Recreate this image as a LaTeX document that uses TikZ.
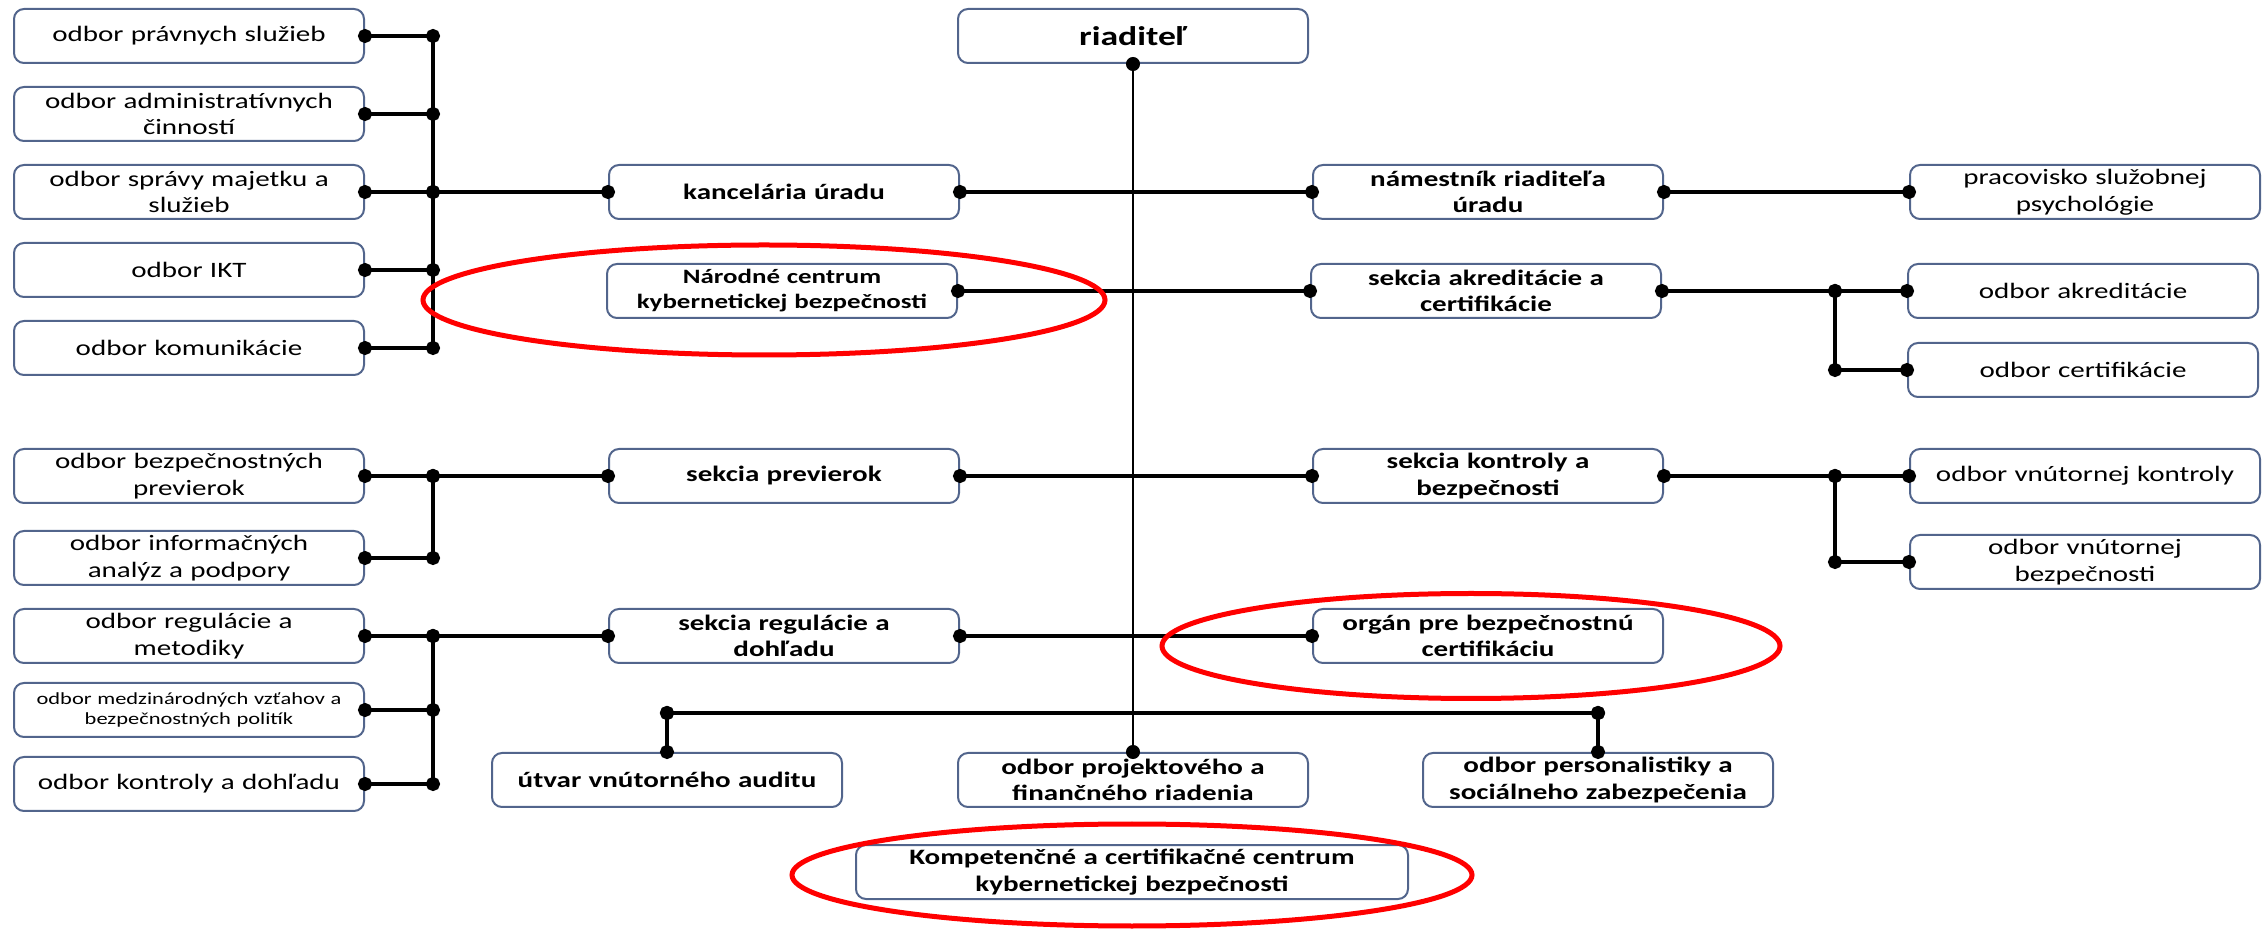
\documentclass[tikz,border=0pt]{standalone}
\usepackage{fontspec}
\setmainfont{Carlito}[FakeStretch=1.32]
\usetikzlibrary{positioning,arrows.meta,shapes.geometric}
\definecolor{boxline}{HTML}{52658C}

\begin{document}
\begin{tikzpicture}[
	x=0.5pt, y=-0.5pt,
	odbor/.style={rectangle, rounded corners=5pt, draw=boxline, line width=1pt, align=center, text width=170pt, inner xsep=2.5pt, inner ysep=0pt, minimum height=27pt, font=\fontsize{11}{13.3}\selectfont},
	sekcia/.style={odbor, font=\fontsize{11}{13.3}\selectfont\bfseries},
	link/.style={line width=2pt, {Circle[length=7pt]}-{Circle[length=7pt]}, shorten <=-3.5pt, shorten >=-3.5pt},
	bus/.style={line width=2pt},
	ring/.style={ellipse, draw=red, line width=2.5pt, inner sep=0pt}
	]

	\useasboundingbox (0,0) rectangle (2265,929);

	\node (riad) [sekcia, font=\fontsize{13.5}{16}\selectfont\bfseries] at (1133,36) {riaditeľ};

	% left column, top group
	\node (pravne) [odbor] at (189,36) {odbor právnych služieb};
	\node (admin) [odbor, below=11pt of pravne] {odbor administratívnych\\činností};
	\node (sprava) [odbor, below=11pt of admin] {odbor správy majetku a\\služieb};
	\node (ikt) [odbor, below=11pt of sprava] {odbor IKT};
	\node (komunik) [odbor, below=11pt of ikt] {odbor komunikácie};

	% left column, lower groups
	\node (bezprev) [odbor] at (189,476) {odbor bezpečnostných\\previerok};
	\node (infoan) [odbor, below=13pt of bezprev] {odbor informačných\\analýz a podpory};
	\node (regmet) [odbor] at (189,636) {odbor regulácie a\\metodiky};
	\node (medzin) [odbor, below=9pt of regmet, font=\fontsize{8.5}{10.2}\selectfont] {odbor medzinárodných vzťahov a\\bezpečnostných politík};
	\node (kontdoh) [odbor, below=9pt of medzin] {odbor kontroly a dohľadu};

	% sections left of the spine
	\node (kanc) [sekcia, right=121.5pt of sprava] {kancelária úradu};
	\node (nckb) [sekcia, font=\fontsize{10.2}{12.5}\selectfont\bfseries] at (782,291) {Národné centrum\\kybernetickej bezpečnosti};
	\node (previerok) [sekcia, right=121.5pt of bezprev] {sekcia previerok};
	\node (sregul) [sekcia, right=121.5pt of regmet] {sekcia regulácie a\\dohľadu};

	% sections right of the spine
	\node (namest) [sekcia, right=176pt of kanc] {námestník riaditeľa\\úradu};
	\node (sakr) [sekcia, right=176pt of nckb] {sekcia akreditácie a\\certifikácie};
	\node (skontr) [sekcia, right=176pt of previerok] {sekcia kontroly a\\bezpečnosti};
	\node (organ) [sekcia, right=176pt of sregul] {orgán pre bezpečnostnú\\certifikáciu};

	% right column
	\node (psych) [odbor, right=122.5pt of namest] {pracovisko služobnej\\psychológie};
	\node (oakr) [odbor, right=122.5pt of sakr] {odbor akreditácie};
	\node (ocert) [odbor, below=11.5pt of oakr] {odbor certifikácie};
	\node (okontr) [odbor, right=122.5pt of skontr] {odbor vnútornej kontroly};
	\node (ovnbez) [odbor, below=15pt of okontr] {odbor vnútornej\\bezpečnosti};

	% bottom row
	\node (projekt) [sekcia] at (1133,780) {odbor projektového a\\finančného riadenia};
	\node (audit) [sekcia, left=57pt of projekt] {útvar vnútorného auditu};
	\node (personal) [sekcia, right=56.5pt of projekt] {odbor personalistiky a\\sociálneho zabezpečenia};
	\node (kompet) [sekcia, text width=271pt] at (1132,872) {Kompetenčné a certifikačné centrum\\kybernetickej bezpečnosti};

	\coordinate (lbus) at (433,0);
	\coordinate (rbus) at (1835,0);
	\coordinate (bbus) at (1133,713);

	\draw [link, line width=1.2pt] (riad.south) -- (projekt.north);

	\draw [link] (pravne.east) -- (pravne.east -| lbus);
	\draw [link] (admin.east) -- (admin.east -| lbus);
	\draw [link] (sprava.east) -- (sprava.east -| lbus);
	\draw [link] (ikt.east) -- (ikt.east -| lbus);
	\draw [link] (komunik.east) -- (komunik.east -| lbus);
	\draw [bus] (pravne.east -| lbus) -- (komunik.east -| lbus);
	\draw [link] (kanc.west -| lbus) -- (kanc.west);

	\draw [link] (bezprev.east) -- (bezprev.east -| lbus);
	\draw [link] (infoan.east) -- (infoan.east -| lbus);
	\draw [bus] (bezprev.east -| lbus) -- (infoan.east -| lbus);
	\draw [link] (previerok.west -| lbus) -- (previerok.west);

	\draw [link] (regmet.east) -- (regmet.east -| lbus);
	\draw [link] (medzin.east) -- (medzin.east -| lbus);
	\draw [link] (kontdoh.east) -- (kontdoh.east -| lbus);
	\draw [bus] (regmet.east -| lbus) -- (kontdoh.east -| lbus);
	\draw [link] (sregul.west -| lbus) -- (sregul.west);

	\draw [link] (kanc.east) -- (namest.west);
	\draw [link] (nckb.east) -- (sakr.west);
	\draw [link] (previerok.east) -- (skontr.west);
	\draw [link] (sregul.east) -- (organ.west);

	\draw [link] (namest.east) -- (psych.west);
	\draw [link] (sakr.east) -- (sakr.east -| rbus);
	\draw [link] (oakr.west -| rbus) -- (oakr.west);
	\draw [link] (ocert.west -| rbus) -- (ocert.west);
	\draw [bus] (oakr.west -| rbus) -- (ocert.west -| rbus);
	\draw [link] (skontr.east) -- (skontr.east -| rbus);
	\draw [link] (okontr.west -| rbus) -- (okontr.west);
	\draw [link] (ovnbez.west -| rbus) -- (ovnbez.west);
	\draw [bus] (okontr.west -| rbus) -- (ovnbez.west -| rbus);

	\draw [link] (audit.north |- bbus) -- (personal.north |- bbus);
	\draw [link] (audit.north |- bbus) -- (audit.north);
	\draw [link] (personal.north |- bbus) -- (personal.north);

	% red marks
	\node (ringa) [ring, minimum width=341pt, minimum height=55pt] at (764,300) {};
	\node (ringb) [ring, minimum width=309pt, minimum height=52.5pt] at (1471,646) {};
	\node (ringc) [ring, minimum width=340pt, minimum height=51pt] at (1132,875) {};

\end{tikzpicture}
\end{document}
